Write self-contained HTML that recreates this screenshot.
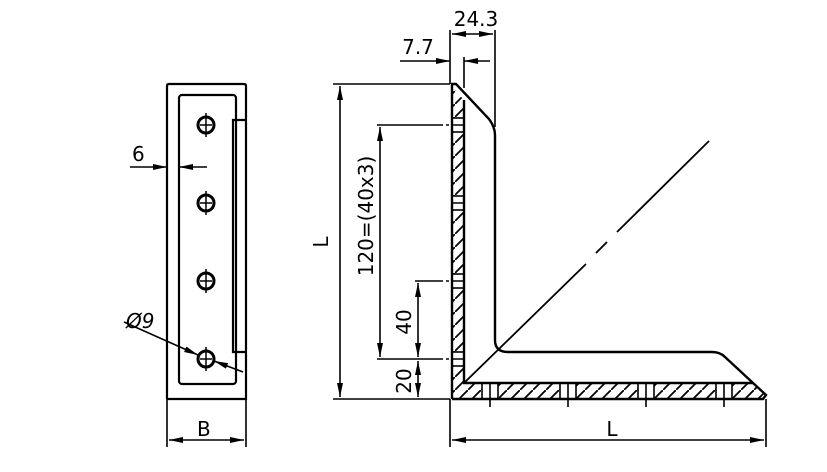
<!DOCTYPE html>
<html><head><meta charset="utf-8"><style>
html,body{margin:0;padding:0;background:#fff;width:827px;height:472px;overflow:hidden}
svg{display:block}
text{font-family:"DejaVu Sans","Liberation Sans",sans-serif;fill:#000}
</style></head><body>
<svg width="827" height="472" viewBox="0 0 827 472" xmlns="http://www.w3.org/2000/svg">
<defs>
<marker id="a" viewBox="0 0 14 6" refX="14" refY="3" markerWidth="14" markerHeight="6" orient="auto-start-reverse" markerUnits="userSpaceOnUse"><path d="M0,0L14,3L0,6z" fill="#000"/></marker>
<pattern id="h" patternUnits="userSpaceOnUse" width="13" height="13"><path d="M-2,15L15,-2" stroke="#000" stroke-width="1.8"/></pattern>
</defs>
<g fill="none" stroke="#000" stroke-width="2.2">
<path d="M167,399 V86 Q167,84 169,84 H244 Q246,84 246,86 V399 H167"/>
<path d="M246,120 H233 V352 H246"/>
<rect x="179" y="95" width="57" height="289" rx="3"/>
<g stroke-width="3">
<circle cx="206" cy="125" r="8"/><circle cx="206" cy="203" r="8"/><circle cx="206" cy="281" r="8"/><circle cx="206" cy="359" r="8"/>
</g>
<g stroke-width="1.5">
<path d="M206,113v24M200,125h12M206,191v24M200,203h12M206,269v24M200,281h12M206,347v24M200,359h12"/>
</g>
</g>
<g stroke="#000" stroke-width="1.6" fill="none">
<path d="M130,167 H167" marker-end="url(#a)"/>
<path d="M207,167 H179" marker-end="url(#a)"/>
<path d="M124,322 L198,355" marker-end="url(#a)"/>
<path d="M243,372 L214,361" marker-end="url(#a)"/>
<path d="M167,399V447M246,399V447"/>
<path d="M169,440H244" marker-start="url(#a)" marker-end="url(#a)"/>
</g>
<text x="132" y="161" font-size="20">6</text>
<text x="126" y="328" font-size="20" font-style="italic">Ø9</text>
<text x="197" y="436" font-size="20">B</text>

<path d="M452,87 L464,100 V383 H452 Z" fill="url(#h)"/>
<path d="M452,383 H753 L766,395 L764,399 H452Z" fill="url(#h)"/>
<g fill="#fff" stroke="#000" stroke-width="1.6">
<rect x="452" y="118" width="12" height="14"/><rect x="452" y="196" width="12" height="14"/><rect x="452" y="274" width="12" height="14"/><rect x="452" y="352" width="12" height="14"/>
<rect x="482" y="383" width="16" height="16"/><rect x="560" y="383" width="16" height="16"/><rect x="638" y="383" width="16" height="16"/><rect x="716" y="383" width="16" height="16"/>
</g>
<g fill="none" stroke="#000" stroke-width="1.6">
<path d="M452,125h12M452,203h12M452,281h12M452,359h12M490,383v16M568,383v16M646,383v16M724,383v16"/>
</g>
<g fill="none" stroke="#000" stroke-width="2.4">
<path d="M452,399 V84 H456 L489,119 Q495,127 495,135 V340 Q495,352 508,352 H712 Q720,352 725,357 L766,395 L763,399 H452"/>
<path d="M464,100 V383 H753"/>
<path d="M464,383 L586,264 M596,253 L607,242 M617,232 L709,141" stroke-width="1.8"/>
</g>
<g stroke="#000" stroke-width="1.6" fill="none">
<path d="M333,84H450M377,125H440M415,281H440M377,359H440M333,399H450"/>
<path d="M440,125h10M440,281h10M440,359h10" stroke-dasharray="3,3"/>
<path d="M340,86V397" marker-start="url(#a)" marker-end="url(#a)"/>
<path d="M380,127V357" marker-start="url(#a)" marker-end="url(#a)"/>
<path d="M418,283V357" marker-start="url(#a)" marker-end="url(#a)"/>
<path d="M418,361V397" marker-start="url(#a)" marker-end="url(#a)"/>
<path d="M450,30V84M495,30V127M464,57V88"/>
<path d="M452,34H493" marker-start="url(#a)" marker-end="url(#a)"/>
<path d="M400,61H450" marker-end="url(#a)"/>
<path d="M490,61H464" marker-end="url(#a)"/>
<path d="M450,399V447M766,399V447M490,399v8M568,399v8M646,399v8M724,399v8"/>
<path d="M452,440H764" marker-start="url(#a)" marker-end="url(#a)"/>
</g>
<text x="476" y="26" font-size="20" text-anchor="middle">24.3</text>
<text x="418" y="54" font-size="20" text-anchor="middle">7.7</text>
<text x="612" y="436" font-size="20" text-anchor="middle">L</text>
<text transform="translate(328,242) rotate(-90)" font-size="20" text-anchor="middle">L</text>
<text transform="translate(373,216) rotate(-90)" font-size="20" text-anchor="middle">120=(40x3)</text>
<text transform="translate(411,322) rotate(-90)" font-size="20" text-anchor="middle">40</text>
<text transform="translate(411,381) rotate(-90)" font-size="20" text-anchor="middle">20</text>
</svg>
</body></html>
